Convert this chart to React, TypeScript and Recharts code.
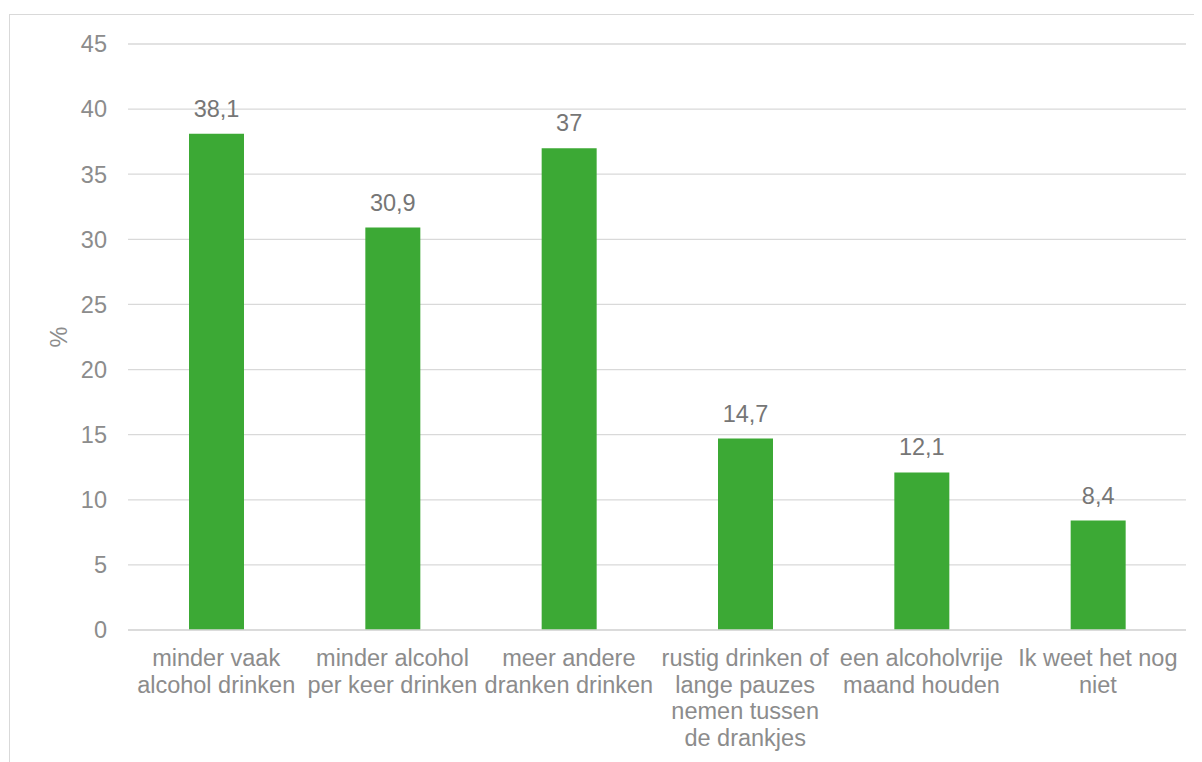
import React from "react";
import { BarChart, Bar, XAxis, YAxis, CartesianGrid, LabelList, Label } from "recharts";

const categories: string[][] = [
  ["minder vaak", "alcohol drinken"],
  ["minder alcohol", "per keer drinken"],
  ["meer andere", "dranken drinken"],
  ["rustig drinken of", "lange pauzes", "nemen tussen", "de drankjes"],
  ["een alcoholvrije", "maand houden"],
  ["Ik weet het nog", "niet"],
];
const values: number[] = [38.1, 30.9, 37, 14.7, 12.1, 8.4];
const yTicks: number[] = [0, 5, 10, 15, 20, 25, 30, 35, 40, 45];

const data = categories.map((c, i) => ({ name: c.join(" "), idx: i, value: values[i] }));

const FONT = "'Liberation Sans', Arial, sans-serif";
const FS = 23.5;

const CategoryTick = (props: any) => {
  const { x, y, index } = props;
  const lines = categories[index] || [];
  return (
    <text x={x} y={y} textAnchor="middle" fill="#8c8c8c" fontFamily={FONT} fontSize={FS}>
      {lines.map((l, i) => (
        <tspan key={i} x={x} y={y + 36 + i * 26.5}>
          {l}
        </tspan>
      ))}
    </text>
  );
};

export default function App() {
  return (
    <div style={{ position: "relative", width: 1194, height: 754, overflow: "hidden", background: "#fff" }}>
      <div
        style={{
          position: "absolute",
          left: 1,
          top: 6,
          width: 1300,
          height: 900,
          border: "1px solid #d9d9d9",
          boxSizing: "border-box",
        }}
      />
      <div style={{ position: "absolute", left: 0, top: 0 }}>
        <BarChart
          width={1194}
          height={754}
          data={data}
          margin={{ top: 36, right: 16, bottom: 0, left: 0 }}
        >
          <CartesianGrid vertical={false} stroke="#d9d9d9" strokeWidth={1.3} />
          <XAxis
            dataKey="name"
            height={132}
            axisLine={{ stroke: "#d9d9d9", strokeWidth: 1.3 }}
            tickLine={false}
            tickSize={0}
            tickMargin={0}
            interval={0}
            tick={<CategoryTick />}
          />
          <YAxis
            width={120}
            domain={[0, 45]}
            ticks={yTicks}
            axisLine={false}
            tickLine={false}
            tickSize={0}
            tickMargin={21}
            tick={{ fill: "#8c8c8c", fontFamily: FONT, fontSize: FS }}
          >
            <Label
              value="%"
              angle={-90}
              position="insideLeft"
              offset={0}
              dx={51}
              style={{ fill: "#8c8c8c", fontFamily: FONT, fontSize: FS, textAnchor: "middle" }}
            />
          </YAxis>
          <Bar dataKey="value" fill="#3ca935" barSize={55} isAnimationActive={false}>
            <LabelList
              dataKey="value"
              position="top"
              offset={17}
              formatter={(v: any) => String(v).replace(".", ",")}
              style={{ fill: "#767676", fontFamily: FONT, fontSize: FS }}
            />
          </Bar>
        </BarChart>
      </div>
    </div>
  );
}
